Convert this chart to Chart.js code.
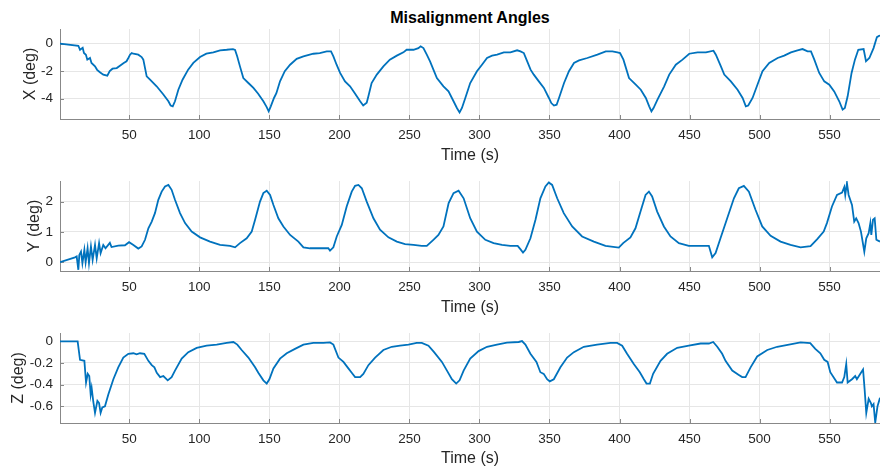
<!DOCTYPE html>
<html>
<head>
<meta charset="utf-8">
<script src="https://cdn.jsdelivr.net/npm/chart.js@4.4.1/dist/chart.umd.min.js"></script>
<style>
  body { margin: 0; width: 880px; height: 468px; overflow: hidden; background: #fff; font-family: "Liberation Sans", Arial, sans-serif; }
  .panel { position: absolute; left: 0; width: 880px; }
  #title { position: absolute; left: 60px; width: 820px; top: 8px; line-height: 20px; text-align: center; font-weight: bold; font-size: 16px; color: #000; }
</style>
</head>
<body>
<div id="title">Misalignment Angles</div>
<div class="panel" style="top:23px;height:144px"><canvas id="xChart"></canvas></div>
<div class="panel" style="top:175px;height:144px"><canvas id="yChart"></canvas></div>
<div class="panel" style="top:327px;height:142px"><canvas id="zChart"></canvas></div>
<script>
// time axis
const timeTicks = [50, 100, 150, 200, 250, 300, 350, 400, 450, 500, 550];

// X misalignment (deg)
const xTime = [0.5, 13.6, 14.8, 16.7, 17.6, 19, 20, 21.9, 23, 25.5, 27, 29, 31.4, 34.3, 36, 38, 41, 43.3, 46, 48, 49.3, 50.5, 51.7, 52.9, 56.4, 58.8, 60, 62.4, 64.8, 69.5, 74.3, 77.9, 79.5, 81, 82.6, 85, 88, 92, 95.7, 100.5, 105, 110, 114.8, 119.5, 124, 125.5, 127, 129, 131.4, 135, 138.6, 142, 145.7, 148, 149.5, 151, 153.3, 155, 157.6, 161, 164.8, 169.5, 174.3, 181.4, 186, 191, 194, 195.7, 198, 200.5, 204, 207.6, 211, 214.8, 217, 219.5, 220.7, 223, 226.7, 231.4, 236, 241, 245.7, 248, 252.9, 256.4, 258, 260, 262.4, 264.8, 267.2, 269.6, 274.3, 277.9, 281.5, 283.9, 285.8, 287.5, 289.9, 293.4, 298.2, 301.8, 305.4, 309, 312.6, 317.4, 322.1, 326.9, 329.3, 331.7, 334.1, 336.5, 338.8, 342.4, 346, 349.6, 351.3, 353.2, 355.1, 356.8, 360.4, 363.9, 367.5, 371.1, 377, 384.2, 390.2, 394.9, 398.5, 400.4, 402.8, 406.8, 411.6, 415.2, 418.8, 421.2, 422.8, 424.3, 427.1, 431.9, 435.5, 440.2, 445, 449.8, 455.7, 461.7, 467.1, 468.8, 472.4, 474.8, 479.5, 484.3, 487.9, 490.2, 491.9, 495, 499.8, 502.1, 506.9, 512.9, 517.6, 522.4, 527.1, 530.7, 534.3, 536.7, 539.1, 542.6, 546.2, 549.8, 553.3, 556.9, 559.3, 560.9, 562.9, 565.7, 568.1, 570.5, 574.3, 576, 578.4, 581.4, 583.8, 585.5, 586];
const xAngle = [0, -0.15, -0.44, -0.3, -0.68, -0.8, -1.16, -1.04, -1.4, -1.65, -1.9, -2.08, -2.25, -2.33, -2.0, -1.82, -1.77, -1.6, -1.4, -1.28, -1.04, -0.8, -0.68, -0.73, -0.8, -0.97, -1.16, -2.38, -2.62, -3.1, -3.7, -4.19, -4.5, -4.56, -4.19, -3.35, -2.62, -1.89, -1.4, -0.97, -0.73, -0.63, -0.48, -0.44, -0.39, -0.45, -0.92, -1.65, -2.5, -2.86, -3.22, -3.64, -4.19, -4.6, -4.92, -4.56, -3.95, -3.6, -2.74, -2.0, -1.53, -1.1, -0.92, -0.73, -0.68, -0.56, -0.56, -0.92, -1.53, -2.13, -2.74, -3.1, -3.6, -4.19, -4.5, -4.3, -3.83, -2.86, -2.25, -1.65, -1.16, -0.87, -0.63, -0.44, -0.44, -0.32, -0.19, -0.32, -0.8, -1.3, -1.9, -2.5, -3.1, -3.47, -4.19, -4.68, -5.0, -4.68, -3.95, -2.86, -2.0, -1.53, -1.04, -0.87, -0.8, -0.63, -0.63, -0.48, -0.56, -0.68, -1.28, -1.89, -2.25, -2.74, -3.22, -3.95, -4.32, -4.5, -4.44, -3.95, -2.86, -2.0, -1.4, -1.21, -1.04, -0.8, -0.56, -0.56, -0.63, -0.68, -1.16, -2.5, -2.98, -3.35, -3.95, -4.56, -4.92, -4.68, -4.07, -3.1, -2.25, -1.53, -1.16, -0.73, -0.63, -0.63, -0.51, -0.8, -1.65, -2.25, -2.74, -3.35, -3.95, -4.56, -4.5, -3.95, -2.62, -2.0, -1.4, -1.04, -0.87, -0.63, -0.48, -0.39, -0.56, -0.56, -1.16, -2.13, -2.74, -2.98, -3.47, -4.19, -4.8, -4.68, -3.83, -2.13, -1.16, -0.44, -0.39, -1.28, -1.04, -0.32, 0.48, 0.58, 0.57];
const xAngleTicks = [-4, -2, 0];

// Y misalignment (deg)
const yTime = [0.5, 11.2, 12.4, 13.6, 14.3, 15.5, 16.5, 17.9, 18.8, 20.2, 21.2, 22.6, 23.8, 25.5, 26.7, 28.4, 29.5, 31.4, 33, 36.1, 37.3, 42.1, 46.9, 49.8, 52.9, 56.4, 58.8, 61.2, 63.6, 66, 68.3, 70.7, 73.1, 75.5, 77.9, 80.2, 82.6, 86.2, 89.8, 94.5, 100.5, 107.6, 114.8, 121.9, 125.5, 129, 133.8, 137.4, 139.8, 143.3, 145.7, 148.1, 150.5, 152.9, 156.4, 160, 164.8, 170.7, 174.3, 179, 186.2, 192.1, 193.3, 195.7, 198.1, 201.7, 205.2, 208.8, 211.2, 213.6, 216, 219.5, 224.3, 229, 235, 241, 246.9, 252.9, 258.8, 262.4, 267.1, 270.7, 274.3, 278, 281.5, 285.1, 288.7, 293.4, 298.2, 304.2, 310.1, 316.1, 322, 327.3, 329.2, 331.1, 332.8, 336.4, 340, 343.5, 347.1, 349.5, 351.9, 355.5, 360.2, 366.2, 373.3, 381.7, 390, 399.5, 402.6, 407.8, 411.4, 415, 418.6, 421, 423.3, 426.9, 431.7, 436.4, 442.4, 449.5, 457.9, 463.8, 466.2, 468.6, 472.1, 476.9, 481.7, 485.2, 488.8, 492.4, 497.1, 501.9, 507.9, 515, 522.1, 529.3, 536.4, 541.2, 545.8, 548.1, 551.7, 555.3, 558.9, 560.5, 561.2, 562.4, 563.6, 566, 567.6, 569, 570.7, 572.4, 574.8, 576.2, 577.9, 579.1, 579.8, 581, 582.2, 583.4, 586];
const yAngle = [0, 0.16, 0.19, -0.25, 0.24, 0.35, -0.03, 0.41, 0.0, 0.46, -0.03, 0.52, 0.08, 0.57, 0.13, 0.63, 0.3, 0.57, 0.46, 0.64, 0.5, 0.55, 0.56, 0.66, 0.57, 0.45, 0.52, 0.74, 1.12, 1.34, 1.62, 2.06, 2.33, 2.5, 2.55, 2.39, 2.06, 1.62, 1.29, 1.01, 0.82, 0.68, 0.57, 0.54, 0.49, 0.63, 0.79, 1.01, 1.4, 2.0, 2.28, 2.36, 2.22, 1.89, 1.45, 1.18, 0.9, 0.68, 0.49, 0.46, 0.46, 0.46, 0.38, 0.49, 0.85, 1.23, 1.84, 2.33, 2.52, 2.55, 2.44, 2.0, 1.45, 1.07, 0.82, 0.68, 0.6, 0.57, 0.54, 0.54, 0.74, 0.9, 1.18, 1.95, 2.28, 2.36, 2.11, 1.45, 1.01, 0.74, 0.63, 0.57, 0.54, 0.54, 0.43, 0.32, 0.41, 0.79, 1.4, 2.11, 2.5, 2.63, 2.55, 2.11, 1.62, 1.18, 0.85, 0.68, 0.54, 0.48, 0.63, 0.82, 1.12, 1.67, 2.22, 2.33, 2.17, 1.67, 1.18, 0.85, 0.63, 0.54, 0.54, 0.54, 0.16, 0.3, 0.79, 1.45, 2.11, 2.44, 2.52, 2.33, 1.73, 1.18, 0.87, 0.68, 0.57, 0.49, 0.53, 0.76, 1.01, 1.29, 1.84, 2.22, 2.3, 2.48, 2.22, 2.61, 2.22, 1.89, 1.34, 1.45, 1.29, 1.01, 0.35, 0.79, 0.96, 1.29, 0.9, 1.4, 1.45, 0.74, 0.68];
const yAngleTicks = [0, 1, 2];

// Z misalignment (deg)
const zTime = [0.5, 13.1, 14.8, 17.9, 19.1, 20.3, 21.4, 22.4, 23.1, 24.3, 25.5, 27.2, 28.4, 29.5, 30.7, 32.6, 35, 38.6, 42.1, 45.7, 49.3, 52.9, 55.2, 57.6, 60.7, 63.6, 66, 67.9, 69.6, 72, 74.3, 77.4, 80.2, 82.6, 87.4, 92.1, 98.1, 105.2, 112.4, 119.5, 124.3, 127.1, 130.2, 135, 139.8, 142.1, 145.7, 148.1, 150, 152.9, 157.6, 162.4, 168.3, 174.3, 181.4, 188.6, 193.3, 195.7, 199.3, 202.9, 206.4, 208.8, 211.2, 214.8, 217.1, 220.7, 225.5, 231.4, 237.4, 243.3, 249.3, 255.2, 258.8, 263.6, 267.6, 273.2, 276.8, 280.3, 283.4, 285.8, 288.7, 293.4, 299.4, 305.4, 312.5, 319.6, 328, 330.4, 332.8, 336.4, 340.7, 343.5, 345.9, 348.3, 350.2, 353.1, 357.8, 362.6, 367.4, 374.5, 384, 393.6, 398.3, 401.9, 405.4, 410.2, 414.5, 417.4, 419.3, 421.7, 424, 429.3, 434, 441.2, 449.5, 457.9, 463.8, 466.9, 469.8, 473.3, 475.7, 480.5, 485.2, 487.6, 490, 493.6, 498.3, 505.5, 512.6, 521, 529.3, 536.2, 539.8, 543.4, 546.2, 548.6, 550.5, 555.3, 558.9, 560.5, 561.9, 562.9, 566, 568.3, 569.5, 571.4, 573.9, 575, 576.2, 577.9, 579.5, 580.2, 581.4, 582.6, 584.2, 586];
const zAngle = [0, 0, -0.17, -0.18, -0.38, -0.3, -0.32, -0.49, -0.43, -0.56, -0.66, -0.55, -0.57, -0.66, -0.61, -0.6, -0.49, -0.35, -0.24, -0.15, -0.115, -0.11, -0.12, -0.11, -0.115, -0.18, -0.22, -0.24, -0.29, -0.33, -0.32, -0.36, -0.33, -0.27, -0.16, -0.1, -0.06, -0.04, -0.03, -0.015, -0.006, -0.03, -0.08, -0.15, -0.24, -0.29, -0.36, -0.39, -0.35, -0.25, -0.16, -0.11, -0.07, -0.03, -0.015, -0.015, -0.01, -0.03, -0.15, -0.19, -0.25, -0.29, -0.33, -0.33, -0.3, -0.22, -0.15, -0.08, -0.05, -0.04, -0.03, -0.015, -0.015, -0.04, -0.1, -0.19, -0.27, -0.35, -0.39, -0.36, -0.27, -0.16, -0.09, -0.05, -0.03, -0.012, -0.006, 0.003, -0.03, -0.115, -0.19, -0.285, -0.3, -0.35, -0.37, -0.35, -0.24, -0.15, -0.1, -0.05, -0.03, -0.015, -0.015, -0.04, -0.115, -0.21, -0.285, -0.35, -0.39, -0.39, -0.3, -0.18, -0.115, -0.06, -0.04, -0.02, -0.02, -0.006, -0.05, -0.115, -0.18, -0.27, -0.31, -0.33, -0.33, -0.24, -0.14, -0.08, -0.05, -0.03, -0.01, -0.016, -0.07, -0.11, -0.17, -0.19, -0.285, -0.38, -0.38, -0.33, -0.21, -0.38, -0.35, -0.32, -0.35, -0.31, -0.26, -0.44, -0.66, -0.53, -0.57, -0.6, -0.58, -0.75, -0.6, -0.52];
const zAngleTicks = [-0.6, -0.4, -0.2, 0];

const lineColor = '#0072BD';
const axisColor = '#888888';
const gridColor = '#e6e6e6';
const textColor = '#262626';
const fontFamily = '"Liberation Sans", Arial, sans-serif';

// MATLAB style ticks pointing into the plot
const inwardTicks = {
    id: 'inwardTicks',
    beforeDatasetsDraw(chart) {
        const { ctx, chartArea, scales } = chart;
        ctx.save();
        ctx.strokeStyle = axisColor;
        ctx.lineWidth = 1;
        scales.x.ticks.forEach(t => {
            const px = Math.round(scales.x.getPixelForValue(t.value)) + 0.5;
            ctx.beginPath();
            ctx.moveTo(px, chartArea.bottom);
            ctx.lineTo(px, chartArea.bottom - 4);
            ctx.stroke();
        });
        scales.y.ticks.forEach(t => {
            const py = Math.round(scales.y.getPixelForValue(t.value)) + 0.5;
            ctx.beginPath();
            ctx.moveTo(chartArea.left, py);
            ctx.lineTo(chartArea.left + 4, py);
            ctx.stroke();
        });
        ctx.restore();
    }
};

// labelGap moves the rotated y label so it sits just left of the tick labels
function makeChart(id, times, values, yMin, yMax, yTicks, yLabel, labelGap, xHeight) {
    const ctx = document.getElementById(id).getContext('2d');
    return new Chart(ctx, {
        type: 'line',
        data: {
            datasets: [{
                data: times.map((t, i) => ({ x: t, y: values[i] })),
                borderColor: lineColor,
                borderWidth: 1.8,
                pointRadius: 0,
                tension: 0,
                fill: false
            }]
        },
        options: {
            animation: false,
            responsive: true,
            maintainAspectRatio: false,
            layout: { padding: { top: 6, right: 0, bottom: 0, left: 0 } },
            plugins: { legend: { display: false }, tooltip: { enabled: false } },
            scales: {
                x: {
                    type: 'linear',
                    min: 0.5,
                    max: 586,
                    afterBuildTicks: s => { s.ticks = timeTicks.map(v => ({ value: v })); },
                    afterFit: s => { s.height = xHeight; s.paddingLeft = 0; s.paddingRight = 0; },
                    grid: { color: gridColor, drawTicks: false },
                    border: { display: true, color: axisColor, width: 1 },
                    ticks: {
                        color: textColor, padding: 8, maxRotation: 0, autoSkip: false,
                        font: { family: fontFamily, size: 13.5 },
                        callback: v => String(v)
                    },
                    title: {
                        display: true, text: 'Time (s)', color: textColor,
                        font: { family: fontFamily, size: 16 },
                        padding: { top: 0, bottom: xHeight === 48 ? 2 : 1 }
                    }
                },
                y: {
                    min: yMin,
                    max: yMax,
                    afterBuildTicks: s => { s.ticks = yTicks.map(v => ({ value: v })); },
                    afterFit: s => { s.width = 60; s.paddingTop = 0; s.paddingBottom = 0; },
                    grid: { color: gridColor, drawTicks: false },
                    border: { display: true, color: axisColor, width: 1 },
                    ticks: {
                        color: textColor, padding: 7, autoSkip: false,
                        font: { family: fontFamily, size: 13.5 },
                        callback: v => String(v)
                    },
                    title: {
                        display: true, text: yLabel, color: textColor,
                        font: { family: fontFamily, size: 16 },
                        padding: { top: labelGap, bottom: 0 }
                    }
                }
            }
        },
        plugins: [inwardTicks]
    });
}

makeChart('xChart', xTime, xAngle, -5.48, 1.07, xAngleTicks, 'X (deg)', 21, 48);
makeChart('yChart', yTime, yAngle, -0.29, 2.68, yAngleTicks, 'Y (deg)', 25, 48);
makeChart('zChart', zTime, zAngle, -0.754, 0.077, zAngleTicks, 'Z (deg)', 9, 46);
</script>
</body>
</html>
